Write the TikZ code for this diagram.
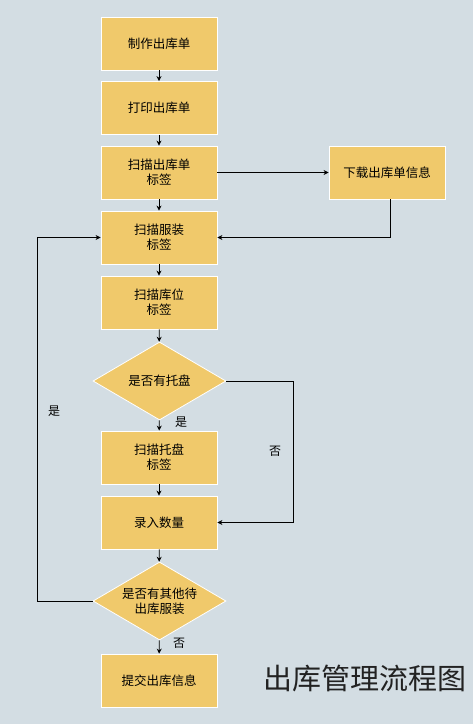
\documentclass[tikz,border=0pt]{standalone}
\usepackage{fontspec}
\setmainfont{Noto Sans CJK SC}
\newfontfamily\titlefont{Noto Sans CJK SC}
\usetikzlibrary{shapes.geometric,arrows.meta}
\definecolor{bgc}{HTML}{D3DDE3}
\definecolor{boxc}{HTML}{F0C96B}
\definecolor{titlec}{HTML}{222222}
\tikzset{
  x=1pt,y=-1pt,
  stepbox/.style={draw=white,line width=0.8pt,fill=boxc,minimum width=116pt,minimum height=53pt,inner sep=0pt,align=center,font=\fontsize{12.5}{15}\selectfont},
  decide/.style={diamond,draw=white,line width=0.8pt,fill=boxc,minimum width=133pt,minimum height=78pt,inner sep=0pt,align=center,font=\fontsize{12.5}{15}\selectfont,aspect=1.7},
  conn/.style={draw=black,line width=0.8pt,-{Stealth[length=5pt,width=5pt]}},
  lbl/.style={font=\fontsize{12}{14}\selectfont}
}
\begin{document}
\begin{tikzpicture}
\fill[bgc] (0,0) rectangle (473,724);
\useasboundingbox (0,0) rectangle (473,724);
\node[stepbox] (b1) at (159,43.5) {制作出库单};
\node[stepbox] (b2) at (159,108) {打印出库单};
\node[stepbox] (b3) at (159,172.5) {扫描出库单\\标签};
\node[stepbox] (dl) at (387,172.5) {下载出库单信息};
\node[stepbox] (b4) at (159,237.5) {扫描服装\\标签};
\node[stepbox] (b5) at (159,302.5) {扫描库位\\标签};
\node[decide] (d1) at (159.5,381) {是否有托盘};
\node[stepbox] (b6) at (159,457.5) {扫描托盘\\标签};
\node[stepbox] (b7) at (159,522.5) {录入数量};
\node[decide] (d2) at (159.5,601) {是否有其他待\\出库服装};
\node[stepbox] (b8) at (159,680.5) {提交出库信息};
\node[font=\titlefont\fontsize{29}{32}\selectfont,text=titlec] (title) at (365,678) {出库管理流程图};

\coordinate (dlc) at (390,237.5);
\coordinate (r1) at (293,381);
\coordinate (r2) at (293,522.5);
\coordinate (l1) at (37,601);
\coordinate (l2) at (37,237.5);

\draw[conn] (b1) -- (b2);
\draw[conn] (b2) -- (b3);
\draw[conn] (b3) -- (b4);
\draw[conn] (b3) -- (dl);
\draw[conn] (dl.south -| dlc) -- (dlc) -- (b4.east);
\draw[conn] (b4) -- (b5);
\draw[conn] (b5) -- (d1);
\draw[conn] (d1) -- (b6);
\draw[conn] (d1.east) -- (r1) -- (r2) -- (b7.east);
\draw[conn] (b6) -- (b7);
\draw[conn] (b7) -- (d2);
\draw[conn] (d2.west) -- (l1) -- (l2) -- (b4.west);
\draw[conn] (d2) -- (b8);

\node[lbl] (yes1) at (181,422) {是};
\node[lbl] (no1) at (275,451) {否};
\node[lbl] (yes2) at (54,411) {是};
\node[lbl] (no2) at (179,643) {否};
\end{tikzpicture}
\end{document}
